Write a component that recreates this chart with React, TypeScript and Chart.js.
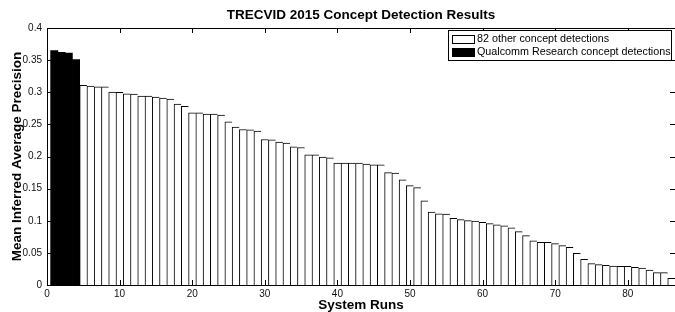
import React, { useEffect, useRef } from 'react';
import { Chart, registerables } from 'chart.js';

Chart.register(...registerables);

const chartTitle = 'TRECVID 2015 Concept Detection Results';
const xAxisTitle = 'System Runs';
const yAxisTitle = 'Mean Inferred Average Precision';

const otherLabel = '82 other concept detections';
const qualcommLabel = 'Qualcomm Research concept detections';

// Qualcomm runs (system runs 1-4)
const qualcommRuns = [1, 2, 3, 4];
const qualcommValues = [0.3647, 0.362, 0.361, 0.351];

// Other runs (system runs 5-86)
const otherFirstRun = 5;
const otherValues = [
  0.3106, 0.3096, 0.3086, 0.3086,
  0.3003, 0.2997, 0.2976, 0.2972,
  0.2941, 0.2941, 0.2925, 0.2909, 0.2894,
  0.2816, 0.2779,
  0.268, 0.268, 0.266, 0.266, 0.2645,
  0.254, 0.2458, 0.242, 0.2415, 0.2395,
  0.2264, 0.226, 0.2224, 0.2208, 0.2151, 0.214,
  0.2026, 0.2026, 0.199, 0.1979,
  0.1897, 0.1897, 0.1897, 0.1897, 0.1881, 0.187, 0.187,
  0.175, 0.1741, 0.1636, 0.1547, 0.1516,
  0.1309, 0.1133, 0.1106, 0.1102,
  0.1039, 0.1018, 0.1002, 0.0993, 0.0977, 0.0955, 0.0935, 0.0919, 0.0888,
  0.0831, 0.0768, 0.0686, 0.0665, 0.0665, 0.0644, 0.0613, 0.0588,
  0.0494, 0.04, 0.0332, 0.0316, 0.0306, 0.0296, 0.0291, 0.0291,
  0.0275, 0.0265, 0.0234, 0.0192, 0.0192, 0.0104,
];

const xMin = 0;
const xMax = 86.5;
const xStep = 10;
const yMin = 0;
const yMax = 0.4;
const yStep = 0.05;

const FONT = '"Liberation Sans", Arial, Helvetica, sans-serif';

const decorPlugin = {
  id: 'matlabDecor',
  afterDraw(chart: any) {
    const { ctx, chartArea } = chart;
    const { left, right, top, bottom } = chartArea;
    const xs = chart.scales.x;
    const ys = chart.scales.y;
    ctx.save();
    ctx.strokeStyle = '#000';
    ctx.lineWidth = 1;
    // box lines (top, left, bottom)
    ctx.beginPath();
    ctx.moveTo(Math.round(left) + 0.5, Math.round(bottom) + 0.5);
    ctx.lineTo(Math.round(left) + 0.5, Math.round(top) + 0.5);
    ctx.lineTo(right, Math.round(top) + 0.5);
    ctx.moveTo(Math.round(left) + 0.5, Math.round(bottom) + 0.5);
    ctx.lineTo(right, Math.round(bottom) + 0.5);
    ctx.stroke();
    // inward ticks
    const tl = 5;
    ctx.beginPath();
    xs.ticks.forEach((t: any) => {
      const px = Math.round(xs.getPixelForValue(t.value)) + 0.5;
      ctx.moveTo(px, bottom);
      ctx.lineTo(px, bottom - tl);
      ctx.moveTo(px, top);
      ctx.lineTo(px, top + tl);
    });
    ys.ticks.forEach((t: any) => {
      const py = Math.round(ys.getPixelForValue(t.value)) + 0.5;
      ctx.moveTo(left, py);
      ctx.lineTo(left + tl, py);
      ctx.moveTo(right, py);
      ctx.lineTo(right - tl, py);
    });
    ctx.stroke();

    // titles
    ctx.fillStyle = '#000';
    const cx = (left + right) / 2;
    ctx.font = `bold 13.5px ${FONT}`;
    ctx.textAlign = 'center';
    ctx.textBaseline = 'alphabetic';
    ctx.fillText(chartTitle, cx, 19);
    ctx.fillText(xAxisTitle, cx, 309);
    ctx.save();
    ctx.translate(17, (top + bottom) / 2);
    ctx.rotate(-Math.PI / 2);
    ctx.textBaseline = 'middle';
    ctx.fillText(yAxisTitle, 0, 0);
    ctx.restore();

    // legend
    const ds = chart.data.datasets;
    const lx0 = 448.5;
    const lx1 = right - 3.5;
    const ly0 = top + 2.5;
    const ly1 = top + 32.5;
    ctx.fillStyle = '#fff';
    ctx.fillRect(lx0, ly0, lx1 - lx0, ly1 - ly0);
    ctx.strokeRect(lx0, ly0, lx1 - lx0, ly1 - ly0);
    ctx.font = `10.75px ${FONT}`;
    ctx.textAlign = 'left';
    ctx.textBaseline = 'middle';
    const rowY = [top + 11.5, top + 24];
    ds.forEach((d: any, i: number) => {
      const y = rowY[i];
      ctx.fillStyle = d.backgroundColor;
      ctx.fillRect(452.5, Math.round(y - 4.5) + 0.5, 22, 8);
      ctx.strokeStyle = '#000';
      ctx.strokeRect(452.5, Math.round(y - 4.5) + 0.5, 22, 8);
      ctx.fillStyle = '#000';
      ctx.fillText(d.label, 477, y);
    });
    ctx.restore();
  },
};

export default function App() {
  const canvasRef = useRef<HTMLCanvasElement | null>(null);

  useEffect(() => {
    document.body.style.margin = '0';
    const canvas = canvasRef.current;
    if (!canvas) return;
    const chart = new Chart(canvas, {
      type: 'bar',
      data: {
        datasets: [
          {
            label: otherLabel,
            data: otherValues.map((v, i) => ({ x: otherFirstRun + i, y: v })),
            backgroundColor: '#ffffff',
            borderColor: '#000000',
            borderWidth: { top: 1, left: 1, right: 0, bottom: 0 },
            borderSkipped: false,
            barPercentage: 1,
            categoryPercentage: 1,
            stack: 's',
          },
          {
            label: qualcommLabel,
            data: qualcommValues.map((v, i) => ({ x: qualcommRuns[i], y: v })),
            backgroundColor: '#000000',
            borderColor: '#000000',
            borderWidth: 0,
            barPercentage: 1,
            categoryPercentage: 1,
            stack: 's',
          },
        ],
      } as any,
      options: {
        animation: false,
        responsive: true,
        maintainAspectRatio: false,
        devicePixelRatio: 1,
        layout: { padding: { top: 28, right: 0, left: 0, bottom: 0 } },
        plugins: {
          legend: { display: false },
          title: { display: false },
          tooltip: { enabled: false },
        },
        scales: {
          x: {
            type: 'linear',
            stacked: true,
            offset: false,
            min: xMin,
            max: xMax,
            grid: { display: false, drawTicks: false, tickLength: 0 },
            border: { display: false },
            ticks: {
              stepSize: xStep,
              includeBounds: false,
              autoSkip: false,
              maxRotation: 0,
              padding: 3,
              color: '#111',
              font: { family: FONT, size: 10 },
              callback: (v: any) => String(v),
            },
            afterFit: (s: any) => {
              s.height = 27;
            },
          },
          y: {
            type: 'linear',
            stacked: true,
            min: yMin,
            max: yMax,
            grid: { display: false, drawTicks: false, tickLength: 0 },
            border: { display: false },
            ticks: {
              stepSize: yStep,
              padding: 5,
              color: '#111',
              font: { family: FONT, size: 10 },
              callback: (v: any) => String(+Number(v).toFixed(2)),
            },
            afterFit: (s: any) => {
              s.width = 47;
            },
          },
        },
      } as any,
      plugins: [decorPlugin],
    });
    return () => chart.destroy();
  }, []);

  return (
    <div style={{ width: 675, height: 312, position: 'relative', background: '#fff' }}>
      <canvas ref={canvasRef} />
    </div>
  );
}
